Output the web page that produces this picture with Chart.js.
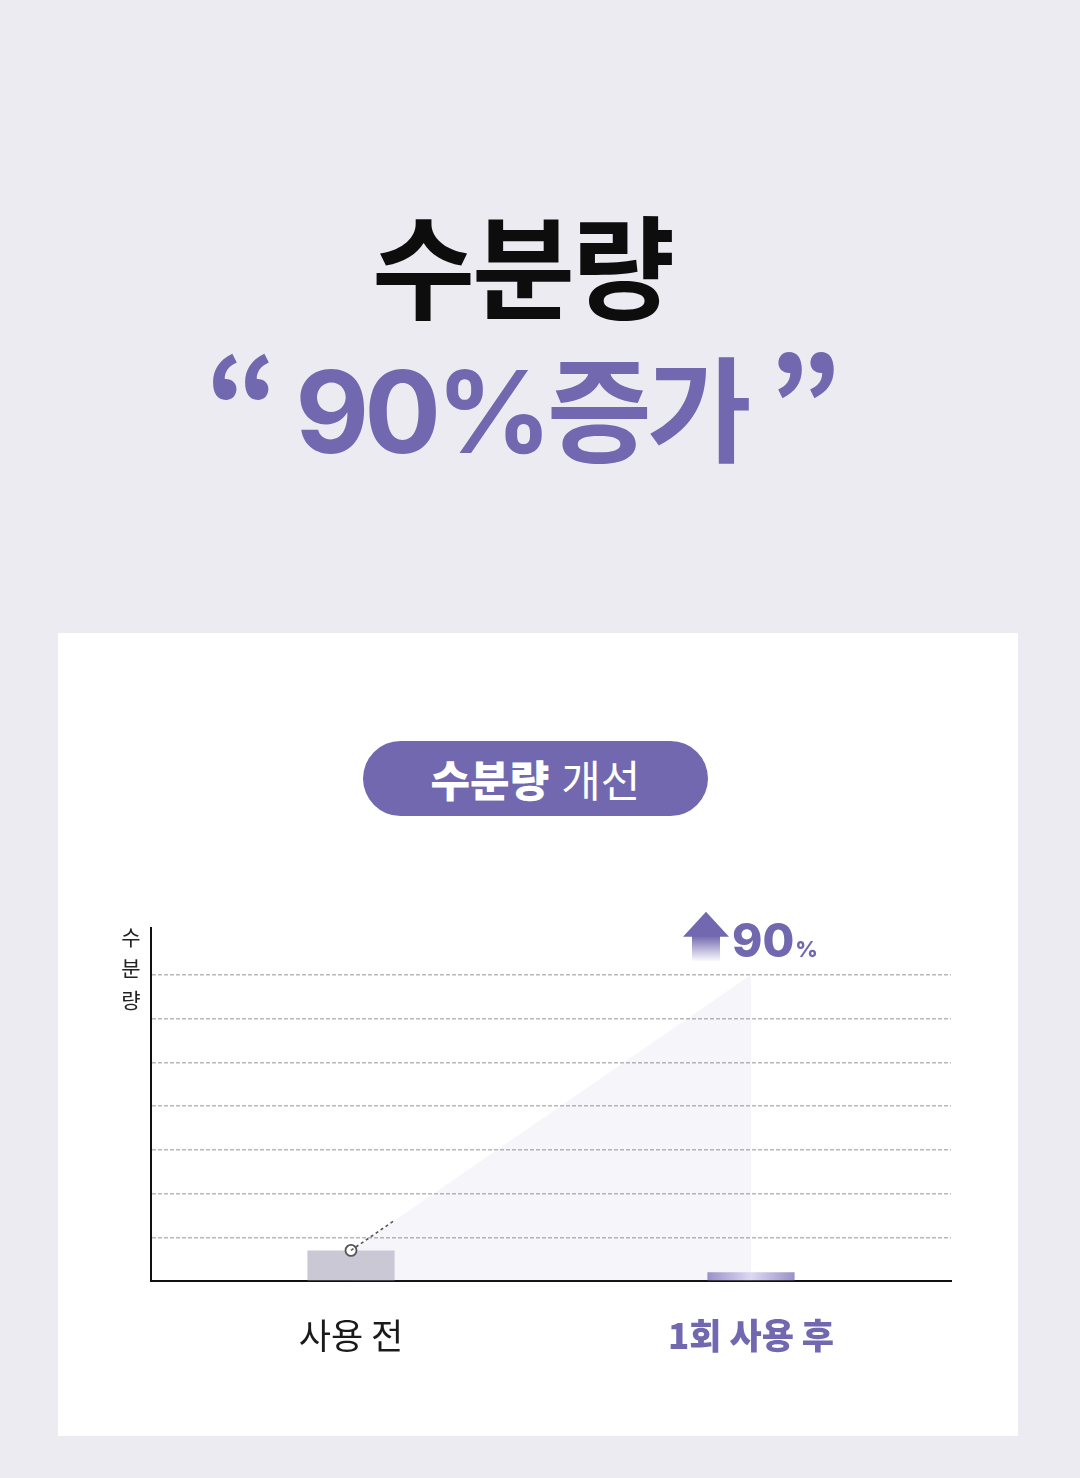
<!DOCTYPE html>
<html lang="ko">
<head>
<meta charset="utf-8">
<script src="https://cdn.jsdelivr.net/npm/chart.js@4.4.0/dist/chart.umd.min.js"></script>
<style>
  html, body { margin: 0; padding: 0; }
  body { width: 1080px; height: 1478px; background: #ecebf2; position: relative; overflow: hidden;
         font-family: "Noto Sans CJK KR", "Noto Sans", sans-serif; }
  .title1 { position: absolute; left: -18px; width: 1080px; top: 187px; text-align: center;
            font-size: 112px; font-weight: 700; color: #0d0d0d; letter-spacing: -3px; line-height: 150px; }
  .title2 { position: absolute; left: -19px; width: 1080px; top: 329px; text-align: center;
            font-family: "Inter", "Noto Sans CJK KR", sans-serif;
            font-size: 114px; font-weight: 700; color: #7268b0; letter-spacing: -5px; line-height: 150px; }
  .title2 .q { font-family: "Noto Sans CJK KR", sans-serif; font-weight: 800; }
  .card { position: absolute; left: 58px; top: 633px; width: 960px; height: 803px; background: #fff; }
  .pill { position: absolute; left: 363px; top: 741px; width: 345px; height: 75px; border-radius: 38px;
          background: #7268b0; color: #fff; text-align: center; font-size: 43px; line-height: 75px; }
  .pill b { font-weight: 800; }
  #grafico { position: absolute; left: 0; top: 0; }
</style>
</head>
<body>
<div class="title1">수분량</div>
<div class="title2"><span class="q">“</span> 90%증가 <span class="q">”</span></div>
<div class="card"></div>
<div class="pill"><b>수분량</b> 개선</div>
<canvas id="grafico" width="1080" height="1478"></canvas>

<script>
const categorias = ["사용 전", "1회 사용 후"];
const barras = [0.7, 0.2];
const linea = [0.7, 7];
const punto = [0.7, null];
const eje_y = ["수", "분", "량"];
const etiqueta = "90";

const morado = "#7268b0";
const grafico = document.querySelector("#grafico");

// flecha, "90%", titulo vertical y trozo punteado
const extras = {
  id: "extras",
  afterDatasetsDraw(chart) {
    const ctx = chart.ctx;
    const pts = chart.getDatasetMeta(1).data;
    const p0 = pts[0], p1 = pts[1];

    // trozo punteado de la linea
    ctx.save();
    ctx.strokeStyle = "#555";
    ctx.lineWidth = 1.6;
    ctx.setLineDash([3, 3]);
    ctx.beginPath();
    ctx.moveTo(p0.x, p0.y);
    ctx.lineTo(p0.x + (p1.x - p0.x) * 0.11, p0.y + (p1.y - p0.y) * 0.11);
    ctx.stroke();
    ctx.restore();

    // flecha
    const ax = p1.x - 45;
    const top = p1.y - 63;
    ctx.save();
    ctx.fillStyle = morado;
    ctx.beginPath();
    ctx.moveTo(ax, top);
    ctx.lineTo(ax + 23, top + 25);
    ctx.lineTo(ax - 23, top + 25);
    ctx.closePath();
    ctx.fill();
    const g = ctx.createLinearGradient(0, top + 24, 0, top + 50);
    g.addColorStop(0, morado);
    g.addColorStop(1, "rgba(114,104,176,0)");
    ctx.fillStyle = g;
    ctx.fillRect(ax - 14, top + 24, 28, 26);

    // texto 90%
    ctx.fillStyle = morado;
    ctx.textBaseline = "alphabetic";
    ctx.textAlign = "left";
    ctx.font = "800 46px Inter, 'Noto Sans CJK KR', sans-serif";
    ctx.fillText(etiqueta, p1.x - 19, top + 45);
    const w = ctx.measureText(etiqueta).width;
    ctx.font = "800 22px Inter, 'Noto Sans CJK KR', sans-serif";
    ctx.fillText("%", p1.x - 19 + w + 1, top + 45);
    ctx.restore();

    // titulo eje y
    const area = chart.chartArea;
    ctx.save();
    ctx.fillStyle = "#222";
    ctx.font = "400 21px 'Noto Sans CJK KR', sans-serif";
    ctx.textAlign = "center";
    ctx.textBaseline = "middle";
    eje_y.forEach((c, i) => ctx.fillText(c, area.left - 20, area.top + 9 + i * 31.5));
    ctx.restore();
  }
};

new Chart(grafico, {
  data: {
    labels: categorias,
    datasets: [
      {
        type: "bar",
        order: 1,
        data: barras,
        categoryPercentage: 1,
        barPercentage: 0.218,
        backgroundColor: (c) => {
          if (c.dataIndex === 0) return "#cac8d4";
          const ch = c.chart;
          if (!ch.chartArea) return "#a69dd0";
          const cx = ch.scales.x.getPixelForValue(1);
          const g = ch.ctx.createLinearGradient(cx - 44, 0, cx + 44, 0);
          g.addColorStop(0, "#9a90c8");
          g.addColorStop(0.5, "#dcd8f3");
          g.addColorStop(1, "#9a90c8");
          return g;
        },
      },
      {
        type: "line",
        order: 3,
        data: linea,
        borderWidth: 0,
        borderColor: "rgba(0,0,0,0)",
        pointRadius: 0,
        fill: "origin",
        backgroundColor: "rgba(114,104,176,0.065)",
        tension: 0,
      },
      {
        type: "line",
        order: 0,
        data: punto,
        showLine: false,
        pointRadius: 5.5,
        pointBackgroundColor: "#fff",
        pointBorderColor: "#555",
        pointBorderWidth: 1.8,
      },
    ],
  },
  options: {
    responsive: false,
    animation: false,
    devicePixelRatio: 1,
    layout: { padding: { left: 151, right: 129, top: 928, bottom: 97 } },
    plugins: { legend: { display: false }, tooltip: { enabled: false } },
    scales: {
      x: {
        grid: { display: false, drawTicks: false },
        border: { display: true, color: "#111", width: 2 },
        ticks: {
          padding: 34,
          color: ["#1a1a1a", morado],
          font: (c) => c.index === 1
            ? { family: "'Noto Sans CJK KR', sans-serif", size: 35, weight: "800" }
            : { family: "'Noto Sans CJK KR', sans-serif", size: 35, weight: "400" },
        },
        afterFit: (s) => { s.height = 100; },
      },
      y: {
        min: 0,
        max: 8.07,
        ticks: { display: false, stepSize: 1 },
        grid: {
          drawTicks: false,
          lineWidth: 1.4,
          color: (c) => (c.tick && c.tick.value >= 1 && c.tick.value <= 7) ? "#b8b8b8" : "rgba(0,0,0,0)",
        },
        border: { display: true, color: "#111", width: 2, dash: [4, 2] },
        afterFit: (s) => { s.width = 0; },
      },
    },
  },
  plugins: [extras],
});
</script>
</body>
</html>
